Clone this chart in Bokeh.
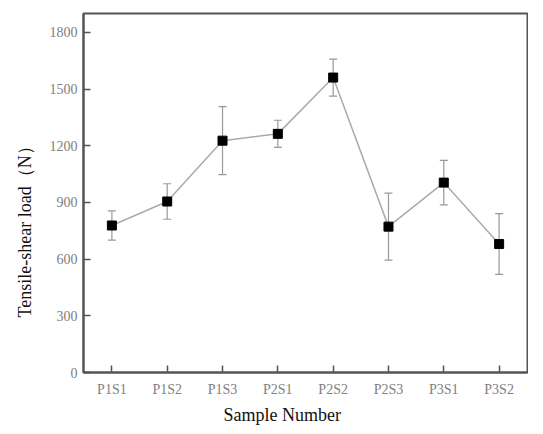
from bokeh.plotting import figure
from bokeh.models import ColumnDataSource, Whisker, TeeHead, FactorRange, Range1d, FixedTicker, Title
from bokeh.embed import file_html
from bokeh.resources import INLINE

samples = ["P1S1", "P1S2", "P1S3", "P2S1", "P2S2", "P2S3", "P3S1", "P3S2"]
load_mean = [778, 905, 1227, 1263, 1561, 772, 1005, 680]
load_err = [77, 94, 180, 72, 98, 177, 118, 161]
y_ticks = [0, 300, 600, 900, 1200, 1500, 1800]

upper = [m + e for m, e in zip(load_mean, load_err)]
lower = [m - e for m, e in zip(load_mean, load_err)]
src = ColumnDataSource(dict(x=samples, y=load_mean, upper=upper, lower=lower))

p = figure(width=528, height=428, output_backend="svg", toolbar_location=None,
           x_range=FactorRange(*samples, range_padding=0.0033),
           y_range=Range1d(0, 1900),
           min_border_left=83, min_border_right=1, min_border_top=13, min_border_bottom=56)

p.xgrid.visible = False
p.ygrid.visible = False
p.outline_line_color = "#555555"
p.outline_line_width = 2

p.line("x", "y", source=src, line_color="#aaaaaa", line_width=1.5)
w = Whisker(source=src, base="x", upper="upper", lower="lower",
            line_color="#999999", line_width=1.2,
            upper_head=TeeHead(size=8, line_color="#999999", line_width=1.2),
            lower_head=TeeHead(size=8, line_color="#999999", line_width=1.2))
p.add_layout(w)
p.scatter("x", "y", source=src, marker="square", size=9, fill_color="black", line_color="black")

for ax in (p.xaxis[0], p.yaxis[0]):
    ax.axis_line_color = "#555555"
    ax.axis_line_width = 2
    ax.major_tick_line_color = "#555555"
    ax.major_tick_line_width = 1.5
    ax.major_tick_in = 7
    ax.major_tick_out = 0
    ax.minor_tick_line_color = None
    ax.major_label_text_font = "Liberation Serif"
    ax.major_label_text_font_size = "14px"
    ax.major_label_text_color = "#808080"

p.yaxis.ticker = FixedTicker(ticks=y_ticks)
p.xaxis.major_label_standoff = 9
p.yaxis.major_label_standoff = 6

# axis titles (placed off-centre as in the reference)
xt = Title(text="Sample Number", align="left", offset=140, standoff=6,
           text_font="Liberation Serif", text_font_size="18px", text_font_style="normal",
           text_color="#111111")
yt = Title(text="Tensile-shear load（N）", align="left", offset=55, standoff=23,
           text_font="Liberation Serif", text_font_size="18px", text_font_style="normal",
           text_color="#111111")
p.add_layout(xt, "below")
p.add_layout(yt, "left")

open("out.html", "w").write(file_html(p, INLINE))
